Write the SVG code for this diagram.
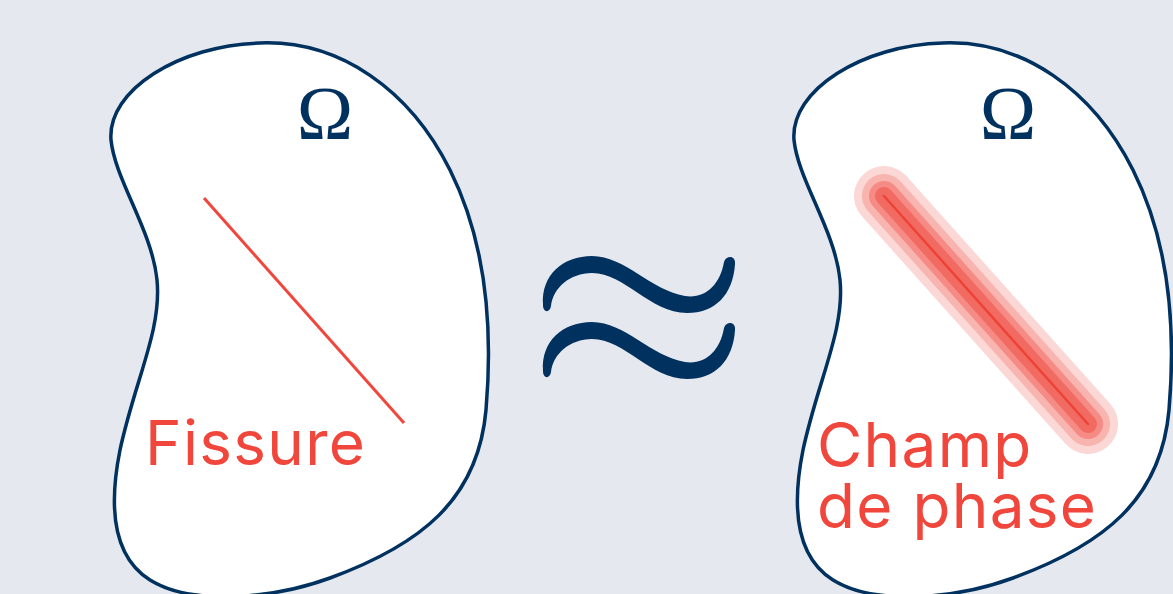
<svg xmlns="http://www.w3.org/2000/svg" width="1173" height="594" viewBox="0 0 1173 594">
<defs>
<style>
.blob{fill:#ffffff;stroke:#00315f;stroke-width:3.5}
.omega{font-family:"Liberation Serif","DejaVu Serif",serif;font-size:76px;fill:#00315f}
.lbl{font-family:"Inter","Liberation Sans",sans-serif;font-size:62px;letter-spacing:1.3px;fill:#f0463c}
.approx{fill:#00315f}
</style>
<path id="blobshape" d="M 260,43 C 340,40 410,90 450,170 C 490,250 492,340 486,410 C 478,500 420,545 330,578 C 270,600 190,605 150,580 C 110,555 110,500 120,450 C 135,380 162,330 157,280 C 152,230 115,180 111,140 C 107,90 180,45 260,43 Z"/>
<path id="tilde" d="M 543,305 C 541,275 563,256 592,256 C 625,256 650,290 685,296 C 705,299 720,285 724,262 C 726,255 736,255 735,264 C 733,295 715,313 687,313 C 650,313 625,273 592,273 C 570,273 553,288 551,306 C 550,313 543,313 543,305 Z"/>
</defs>
<rect width="1173" height="594" fill="#e5e9ef"/>
<g id="domain-fissure">
<use href="#blobshape" class="blob"/>
<text class="omega" x="325" y="139" text-anchor="middle">Ω</text>
<line x1="204" y1="198" x2="404" y2="423" stroke="#f0463c" stroke-width="3"/>
<text class="lbl" x="145" y="465">Fissure</text>
</g>
<g id="approx-symbol">
<use href="#tilde" class="approx"/>
<use href="#tilde" class="approx" transform="translate(0,66)"/>
</g>
<g id="domain-phase">
<use href="#blobshape" class="blob" transform="translate(683,0)"/>
<text class="omega" x="1008" y="139" text-anchor="middle">Ω</text>
<g stroke-linecap="round">
<line x1="884" y1="196" x2="1088" y2="424" stroke="#fbd7d5" stroke-width="60"/>
<line x1="884" y1="196" x2="1088" y2="424" stroke="#f8b4af" stroke-width="44"/>
<line x1="884" y1="196" x2="1088" y2="424" stroke="#f58b84" stroke-width="30"/>
<line x1="884" y1="196" x2="1088" y2="424" stroke="#f26b63" stroke-width="18"/>
<line x1="884" y1="196" x2="1088" y2="424" stroke="#ee4237" stroke-width="2.5"/>
</g>
<text class="lbl"><tspan x="817" y="467">Champ</tspan><tspan x="817" y="528">de phase</tspan></text>
</g>
</svg>
